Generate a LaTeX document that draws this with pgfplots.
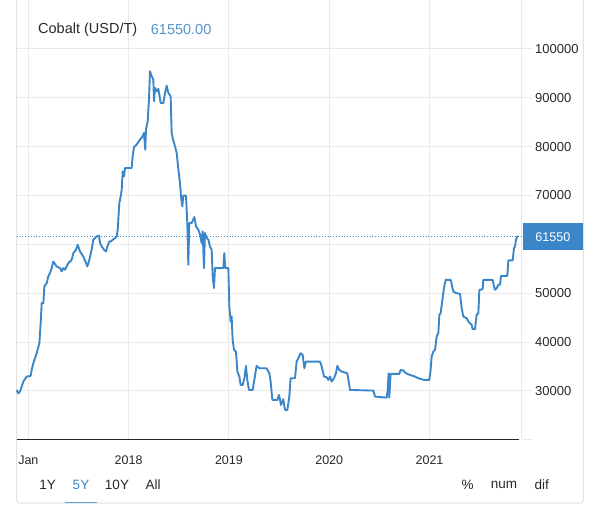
\documentclass[border=0pt]{standalone}
\usepackage{fontspec}
\setmainfont{Liberation Sans}
\usepackage{pgfplots}
\pgfplotsset{compat=1.18}

\definecolor{teblue}{RGB}{58,134,200}
\definecolor{titleblue}{RGB}{82,150,205}
\definecolor{gridgrey}{RGB}{234,234,234}
\definecolor{framegrey}{RGB}{226,226,226}
\definecolor{txt}{RGB}{40,40,40}

\begin{document}
\begin{tikzpicture}[x=1pt,y=-1pt]
\useasboundingbox (0,0) rectangle (600,514);

% outer frame of the widget
\draw[framegrey, line width=1pt, rounded corners=3pt]
  (16.7,0) -- (16.7,503) -- (583.3,503) -- (583.3,0);

\begin{axis}[
    at={(16.7pt,-439.3pt)}, anchor=south west,
    scale only axis, width=505pt, height=439.3pt,
    xmin=2016.884, xmax=2021.919,
    ymin=20100, ymax=110000,
    clip=false,
    axis line style={draw=none},
    grid=major, major grid style={gridgrey, line width=0.9pt},
    xtick={2017,2018,2019,2020,2021},
    xticklabels={Jan,2018,2019,2020,2021},
    xtick style={draw=none},
    x tick label style={font=\fontsize{12.5}{14}\selectfont, text=txt, yshift=-3pt},
    ytick={30000,40000,50000,60000,70000,80000,90000,100000},
    % the 60000 label sits under the last-value box
    yticklabels={30000,40000,50000,,70000,80000,90000,100000},
    scaled x ticks=false, scaled y ticks=false,
    ytick pos=right, yticklabel pos=right,
    ytick style={draw=gridgrey, line width=0.9pt},
    major tick length=10pt, tick align=outside,
    y tick label style={font=\fontsize{13}{15}\selectfont, text=txt, anchor=west},
]
% right edge and bottom axis line
\draw[gridgrey, line width=0.9pt] (rel axis cs:1,0) -- (rel axis cs:1,1);
\draw[gridgrey, line width=0.9pt] (rel axis cs:1,0) -- ([xshift=10pt]rel axis cs:1,0);
\draw[black!85, line width=1.3pt] (rel axis cs:0,0) -- (rel axis cs:0.995,0);

% last value reference line
\addplot[teblue, dotted, line width=0.8pt] coordinates {(2016.884,61550) (2021.919,61550)};

\addplot[teblue, line width=1.9pt, line join=round] coordinates {
(2016.884,30200) (2016.900,29500) (2016.917,29860) (2016.950,31900) (2016.983,32940)
(2017.023,33070) (2017.033,34300) (2017.050,35670) (2017.083,37720) (2017.110,39770)
(2017.123,43870) (2017.133,47960) (2017.150,47960) (2017.160,51380) (2017.183,52060)
(2017.199,53430) (2017.216,54110) (2017.233,55130) (2017.249,56500) (2017.282,55480)
(2017.316,55130) (2017.332,54450) (2017.349,55130) (2017.366,54790) (2017.382,55480)
(2017.399,56160) (2017.432,56840) (2017.449,58210) (2017.475,58890) (2017.492,59920)
(2017.515,58550) (2017.548,57520) (2017.575,56160) (2017.588,55480) (2017.608,56840)
(2017.631,58890) (2017.648,60940) (2017.665,61280) (2017.681,61620) (2017.705,61760)
(2017.715,60260) (2017.731,59570) (2017.754,58890) (2017.774,58550) (2017.788,59570)
(2017.808,60600) (2017.824,60600) (2017.841,60940) (2017.864,61280) (2017.881,61620)
(2017.891,62990) (2017.901,66400) (2017.907,68450) (2017.921,69820) (2017.931,71180)
(2017.941,74940) (2017.954,73920) (2017.964,75620) (2018.030,75620) (2018.040,78010)
(2018.054,79930) (2018.080,80410) (2018.113,81430) (2018.140,82110) (2018.153,82800)
(2018.166,79380) (2018.173,83480) (2018.190,85190) (2018.203,89630) (2018.213,95430)
(2018.230,94410) (2018.246,93720) (2018.253,89280) (2018.263,92020) (2018.279,91330)
(2018.296,91810) (2018.306,90650) (2018.319,88940) (2018.346,88940) (2018.363,90990)
(2018.379,92490) (2018.396,90990) (2018.419,90310) (2018.429,82800) (2018.439,81770)
(2018.462,80060) (2018.479,78700) (2018.496,75280) (2018.512,72550) (2018.522,69820)
(2018.535,67770) (2018.545,69960) (2018.572,69960) (2018.585,64350) (2018.595,55820)
(2018.605,64350) (2018.628,64350) (2018.655,65580) (2018.672,63670) (2018.695,62990)
(2018.712,61960) (2018.728,60260) (2018.738,62650) (2018.751,55130) (2018.761,62310)
(2018.778,61280) (2018.795,60940) (2018.811,59570) (2018.828,58890) (2018.838,53430)
(2018.851,51040) (2018.861,55130) (2018.944,55130) (2018.954,58210) (2018.964,55130)
(2018.994,55130) (2019.004,47280) (2019.017,44210) (2019.027,45230) (2019.037,40450)
(2019.051,38400) (2019.070,38060) (2019.084,33960) (2019.104,32940) (2019.117,31230)
(2019.137,31230) (2019.154,32600) (2019.170,35120) (2019.183,32250) (2019.200,30200)
(2019.237,30200) (2019.253,32250) (2019.276,35120) (2019.303,34640) (2019.376,34640)
(2019.403,33620) (2019.416,31910) (2019.433,28160) (2019.483,28160) (2019.499,29180)
(2019.509,28290) (2019.519,27130) (2019.542,28290) (2019.559,26110) (2019.582,26110)
(2019.602,28840) (2019.615,32600) (2019.659,32600) (2019.675,36010) (2019.692,36690)
(2019.715,37720) (2019.735,37380) (2019.752,34640) (2019.768,36010) (2019.908,36010)
(2019.925,34990) (2019.948,32940) (2019.974,32800) (2019.991,32250) (2020.008,32940)
(2020.024,31910) (2020.048,32600) (2020.067,33620) (2020.081,35120) (2020.101,34300)
(2020.124,33960) (2020.180,33620) (2020.197,31570) (2020.207,30200) (2020.440,30070)
(2020.456,28840) (2020.573,28630) (2020.583,30200) (2020.592,33620) (2020.599,28630)
(2020.612,33480) (2020.699,33480) (2020.712,34300) (2020.739,34170) (2020.765,33620)
(2020.805,33280) (2020.855,32940) (2020.888,32600) (2020.922,32390) (2020.945,32250)
(2020.998,32250) (2021.011,34300) (2021.021,37030) (2021.038,38060) (2021.055,38400)
(2021.071,41130) (2021.088,41820) (2021.098,45570) (2021.111,45910) (2021.128,48650)
(2021.144,51040) (2021.161,52740) (2021.211,52740) (2021.237,50350) (2021.264,50010)
(2021.304,49880) (2021.320,46940) (2021.337,45230) (2021.370,44890) (2021.387,44210)
(2021.420,43520) (2021.430,42640) (2021.453,42640) (2021.470,45570) (2021.487,45910)
(2021.497,50690) (2021.530,50830) (2021.536,52740) (2021.629,52740) (2021.643,51380)
(2021.653,50690) (2021.669,51040) (2021.686,51720) (2021.703,51720) (2021.713,53560)
(2021.776,53560) (2021.786,56710) (2021.829,56710) (2021.842,59230) (2021.852,59570)
(2021.862,60940) (2021.876,61620) (2021.885,61550)
};
\coordinate (lastv) at (axis cs:2021.919,61550);
\end{axis}

% last value box
\node[fill=teblue, text=white, anchor=west, minimum width=60pt, minimum height=26.7pt,
      inner sep=0pt, font=\fontsize{12.6}{14}\selectfont, xshift=1pt] at (lastv) {61550};

% title
\node[anchor=west, inner sep=0pt, text=txt, font=\fontsize{14.5}{17}\selectfont] at (38,29.3) {Cobalt (USD/T)};
\node[anchor=west, inner sep=0pt, text=titleblue, font=\fontsize{14.5}{17}\selectfont] at (150.7,29.3) {61550.00};

% range buttons
\begin{scope}[every node/.style={inner sep=0pt, font=\fontsize{13.5}{16}\selectfont, text=txt}]
\node at (47.7,485) {1Y};
\node[text=teblue] at (81,485) {5Y};
\node at (117,485) {10Y};
\node at (153,485) {All};
\node at (467.7,485) {\%};
\node at (504,485) {num};
\node at (541.7,485) {dif};
\end{scope}
\draw[teblue!80, line width=1.4pt] (65,502.3) -- (97,502.3);
\end{tikzpicture}
\end{document}
